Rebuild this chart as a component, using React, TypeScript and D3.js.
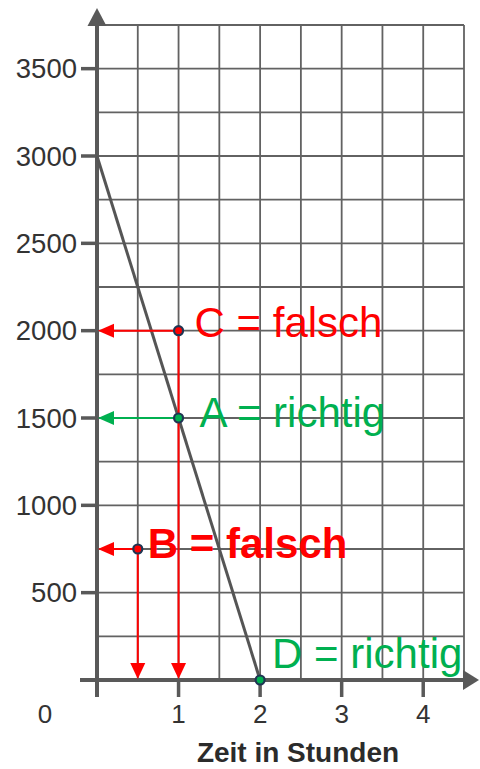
import { useRef, useEffect } from 'react';
import * as d3 from 'd3';

// Zeit (h) vs Menge
const X_TICKS = [1, 2, 3, 4];
const Y_TICKS = [500, 1000, 1500, 2000, 2500, 3000, 3500];
const X_GRID = [0.5, 1, 1.5, 2, 2.5, 3, 3.5, 4, 4.5];
const Y_GRID = [250, 500, 750, 1000, 1250, 1500, 1750, 2000, 2250, 2500, 2750, 3000, 3250, 3500, 3750];
const LINE_T = [0, 2];
const LINE_V = [3000, 0];

const POINT_IDS = ['C', 'A', 'B', 'D'];
const POINT_T = [1, 1, 0.5, 2];
const POINT_V = [2000, 1500, 750, 0];
const POINT_OK = [false, true, false, true];
const POINT_LABELS = ['C = falsch', 'A = richtig', 'B = falsch', 'D = richtig'];
const ARROW_LEFT = [true, true, true, false];
const ARROW_DOWN = [true, false, true, false];

const RED = '#ff0000';
const GREEN = '#00b050';
const AXIS = '#595959';
const FONT = 'Liberation Sans, Arial, sans-serif';

// label offsets relative to the point
const LABEL_OFFSET: Record<string, [number, number, number]> = {
  C: [16, 6, 400],
  A: [21, 9, 400],
  B: [10, 9, 700],
  D: [12, -12, 400],
};

export default function App() {
  const svgRef = useRef<SVGSVGElement>(null);

  useEffect(() => {
    const svg = svgRef.current;
    if (!svg) return;
    const root = d3.select(svg);
    root.selectAll('*').remove();

    const x = d3.scaleLinear().domain([0, 4.5]).range([97, 464]);
    const y = d3.scaleLinear().domain([0, 3750]).range([680, 25]);

    // Grid
    const grid = root.append('g').attr('stroke', '#626262').attr('stroke-width', 1.8);
    X_GRID.forEach(t => {
      grid.append('line').attr('x1', x(t)).attr('x2', x(t)).attr('y1', y(3750)).attr('y2', y(0));
    });
    Y_GRID.forEach(v => {
      grid.append('line').attr('x1', x(0)).attr('x2', x(4.5)).attr('y1', y(v)).attr('y2', y(v));
    });

    // Axes
    const ax = root.append('g');
    ax.append('line').attr('x1', x(0)).attr('x2', x(0)).attr('y1', y(0) + 17).attr('y2', 22)
      .attr('stroke', AXIS).attr('stroke-width', 4);
    ax.append('path').attr('d', `M${x(0) - 9.5},26 L${x(0)},8 L${x(0) + 9.5},26 Z`).attr('fill', AXIS);
    ax.append('line').attr('x1', x(0) - 17).attr('x2', 466).attr('y1', y(0)).attr('y2', y(0))
      .attr('stroke', AXIS).attr('stroke-width', 4);
    ax.append('path').attr('d', `M463,${y(0) - 10} L479,${y(0)} L463,${y(0) + 10} Z`).attr('fill', AXIS);

    Y_TICKS.forEach(v => {
      ax.append('line').attr('x1', x(0) - 16).attr('x2', x(0)).attr('y1', y(v)).attr('y2', y(v))
        .attr('stroke', AXIS).attr('stroke-width', 3.5);
      ax.append('text').attr('x', x(0) - 20).attr('y', y(v)).attr('text-anchor', 'end')
        .attr('dominant-baseline', 'central').attr('font-family', FONT).attr('font-size', 27.5)
        .attr('fill', '#333').text(v);
    });
    X_TICKS.forEach(t => {
      ax.append('line').attr('x1', x(t)).attr('x2', x(t)).attr('y1', y(0)).attr('y2', y(0) + 17)
        .attr('stroke', AXIS).attr('stroke-width', 3.5);
      ax.append('text').attr('x', x(t)).attr('y', 714).attr('text-anchor', 'middle')
        .attr('dominant-baseline', 'central').attr('font-family', FONT).attr('font-size', 26)
        .attr('fill', '#333').text(t);
    });
    ax.append('text').attr('x', 45).attr('y', 714).attr('text-anchor', 'middle')
      .attr('dominant-baseline', 'central').attr('font-family', FONT).attr('font-size', 26)
      .attr('fill', '#333').text(0);
    ax.append('text').attr('x', 298).attr('y', 762).attr('text-anchor', 'middle')
      .attr('font-family', FONT).attr('font-size', 28).attr('font-weight', 700)
      .attr('fill', '#2b2b2b').text('Zeit in Stunden');

    // Line
    const line = d3.line<number>().x(i => x(LINE_T[i])).y(i => y(LINE_V[i]));
    root.append('path').attr('d', line(LINE_T.map((_, i) => i))).attr('fill', 'none')
      .attr('stroke', '#555').attr('stroke-width', 3);

    // Arrows
    const arrows = root.append('g');
    POINT_IDS.forEach((id, i) => {
      const px = x(POINT_T[i]);
      const py = y(POINT_V[i]);
      const c = POINT_OK[i] ? GREEN : RED;
      if (ARROW_LEFT[i]) {
        const tip = x(0) + 1;
        arrows.append('line').attr('x1', px).attr('x2', tip + 12).attr('y1', py).attr('y2', py)
          .attr('stroke', c).attr('stroke-width', 2);
        arrows.append('path').attr('d', `M${tip},${py} L${tip + 16},${py - 7} L${tip + 16},${py + 7} Z`).attr('fill', c);
      }
      if (ARROW_DOWN[i]) {
        const tip = y(0) - 1;
        arrows.append('line').attr('x1', px).attr('x2', px).attr('y1', py).attr('y2', tip - 12)
          .attr('stroke', c).attr('stroke-width', 2);
        arrows.append('path').attr('d', `M${px},${tip} L${px - 7.5},${tip - 16} L${px + 7.5},${tip - 16} Z`).attr('fill', c);
      }
    });

    // Points + labels
    POINT_IDS.forEach((id, i) => {
      const px = x(POINT_T[i]);
      const py = y(POINT_V[i]);
      const c = POINT_OK[i] ? GREEN : RED;
      root.append('circle').attr('cx', px).attr('cy', py).attr('r', 4.5)
        .attr('fill', c).attr('stroke', '#1f3553').attr('stroke-width', 2.2);
      const [dx, dy, w] = LABEL_OFFSET[id];
      root.append('text').attr('x', px + dx).attr('y', py + dy)
        .attr('font-family', FONT).attr('font-size', 42).attr('font-weight', w)
        .attr('fill', c).text(POINT_LABELS[i]);
    });
  }, []);

  return (
    <svg ref={svgRef} width={480} height={769}
      style={{ position: 'absolute', left: 0, top: 0, background: '#fff', display: 'block' }} />
  );
}
